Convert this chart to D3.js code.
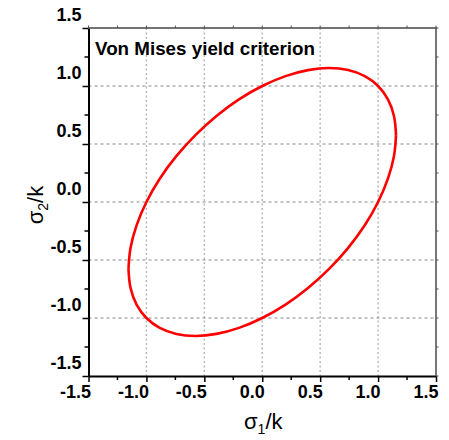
<!DOCTYPE html>
<html>
<head>
<meta charset="utf-8">
<script src="https://cdn.jsdelivr.net/npm/d3@7"></script>
<style>
  html, body { margin: 0; padding: 0; background: #fff; }
  svg { display: block; }
  text { font-family: "Liberation Sans", Arial, sans-serif; }
</style>
</head>
<body>
<svg id="chart" width="449" height="440"></svg>
<script>
// Von Mises yield locus in the σ1–σ2 plane (normalised by k)
const titleText = "Von Mises yield criterion";
const xTicks = [-1.5, -1.0, -0.5, 0.0, 0.5, 1.0, 1.5];
const yTicks = [-1.5, -1.0, -0.5, 0.0, 0.5, 1.0, 1.5];
const minorTicks = [-1.25, -0.75, -0.25, 0.25, 0.75, 1.25];
const gridValues = [-1.0, -0.5, 0.0, 0.5, 1.0];

// upper branch of the locus, from the right extreme round to the left extreme
const upperX = [1.155, 1.137, 1.085, 1.00, 0.885, 0.742, 0.577, 0.395, 0.201, 0.00, -0.201, -0.395, -0.577, -0.742, -0.885, -1.00, -1.085, -1.137, -1.155];
const upperY = [0.577, 0.742, 0.885, 1.00, 1.085, 1.137, 1.155, 1.137, 1.085, 1.00, 0.885, 0.742, 0.577, 0.395, 0.201, 0.00, -0.201, -0.395, -0.577];
// lower branch, from the left extreme back to the right extreme
const lowerX = [-1.155, -1.137, -1.085, -1.00, -0.885, -0.742, -0.577, -0.395, -0.201, 0.00, 0.201, 0.395, 0.577, 0.742, 0.885, 1.00, 1.085, 1.137, 1.155];
const lowerY = [-0.577, -0.742, -0.885, -1.00, -1.085, -1.137, -1.155, -1.137, -1.085, -1.00, -0.885, -0.742, -0.577, -0.395, -0.201, 0.00, 0.201, 0.395, 0.577];

const svg = d3.select("#chart");
const plot = { left: 88.5, right: 436, top: 28, bottom: 376 };

const x = d3.scaleLinear().domain([-1.5, 1.5]).range([plot.left, plot.right]);
const y = d3.scaleLinear().domain([-1.5, 1.5]).range([plot.bottom, plot.top]);

// grid
const grid = svg.append("g");
grid.selectAll("line.vg").data(gridValues).join("line")
  .attr("x1", d => x(d)).attr("x2", d => x(d))
  .attr("y1", plot.top).attr("y2", plot.bottom)
  .attr("stroke", "#b4b4b4").attr("stroke-width", 1.4)
  .attr("stroke-dasharray", "2,2.5");
grid.selectAll("line.hg").data(gridValues).join("line")
  .attr("x1", plot.left).attr("x2", plot.right)
  .attr("y1", d => y(d)).attr("y2", d => y(d))
  .attr("stroke", "#8a8a8a").attr("stroke-width", 1)
  .attr("stroke-dasharray", "3,3");

// yield locus, drawn as two branches
const line = d3.line()
  .x(d => x(d[0])).y(d => y(d[1]))
  .curve(d3.curveCatmullRom.alpha(0.5));
const upper = upperX.map((v, i) => [v, upperY[i]]);
const lower = lowerX.map((v, i) => [v, lowerY[i]]);
[upper, lower].forEach(pts => {
  svg.append("path")
    .attr("d", line(pts))
    .attr("fill", "none")
    .attr("stroke", "#ff0000")
    .attr("stroke-width", 2.6)
    .attr("stroke-linecap", "butt");
});

// axes
const axisFont = g => g.selectAll("text")
  .style("font-family", "'Liberation Sans', Arial, sans-serif")
  .style("font-weight", "bold")
  .style("font-size", "18px")
  .attr("fill", "#000");

const fmt = d3.format(".1f");

const xAxis = svg.append("g")
  .attr("transform", `translate(0,${plot.bottom})`)
  .call(d3.axisBottom(x).tickValues(xTicks).tickFormat(d => fmt(d).replace("−", "-")).tickSize(6).tickSizeOuter(0));
xAxis.select(".domain").attr("stroke", "#000").attr("stroke-width", 2);
xAxis.selectAll(".tick line").attr("stroke", "#000").attr("stroke-width", 1.5);
xAxis.selectAll(".tick text").attr("text-anchor", "end").attr("x", 2).attr("y", 9).attr("dy", "0.71em");
axisFont(xAxis);

const yAxis = svg.append("g")
  .attr("transform", `translate(${plot.left},0)`)
  .call(d3.axisLeft(y).tickValues(yTicks).tickFormat(d => fmt(d).replace("−", "-")).tickSize(6).tickSizeOuter(0));
yAxis.select(".domain").attr("stroke", "#000").attr("stroke-width", 2);
yAxis.selectAll(".tick line").attr("stroke", "#000").attr("stroke-width", 1.5);
yAxis.selectAll(".tick text").attr("x", -7).attr("dy", "-0.42em");
axisFont(yAxis);

// minor ticks on the bottom and left axes
svg.append("g").selectAll("line").data(minorTicks).join("line")
  .attr("x1", d => x(d)).attr("x2", d => x(d))
  .attr("y1", plot.bottom).attr("y2", plot.bottom + 4)
  .attr("stroke", "#000").attr("stroke-width", 1.5);
svg.append("g").selectAll("line").data(minorTicks).join("line")
  .attr("y1", d => y(d)).attr("y2", d => y(d))
  .attr("x1", plot.left).attr("x2", plot.left - 4)
  .attr("stroke", "#000").attr("stroke-width", 1.5);

// top and right frame with small outward ticks
svg.append("line")
  .attr("x1", plot.left).attr("x2", plot.right + 1)
  .attr("y1", plot.top).attr("y2", plot.top)
  .attr("stroke", "#444").attr("stroke-width", 1.6);
svg.append("line")
  .attr("x1", plot.right).attr("x2", plot.right)
  .attr("y1", plot.top).attr("y2", plot.bottom)
  .attr("stroke", "#555").attr("stroke-width", 1.6);
const frameTicks = xTicks.concat(minorTicks);
svg.append("g").selectAll("line").data(frameTicks).join("line")
  .attr("x1", d => x(d)).attr("x2", d => x(d))
  .attr("y1", plot.top).attr("y2", plot.top - 2.5)
  .attr("stroke", "#555").attr("stroke-width", 1);
svg.append("g").selectAll("line").data(frameTicks).join("line")
  .attr("y1", d => y(d)).attr("y2", d => y(d))
  .attr("x1", plot.right).attr("x2", plot.right + 2.5)
  .attr("stroke", "#555").attr("stroke-width", 1);

// title inside the plot
svg.append("text")
  .attr("x", 95).attr("y", 55)
  .style("font-weight", "bold").style("font-size", "18.8px")
  .attr("fill", "#000")
  .text(titleText);

// axis titles
const xTitle = svg.append("text")
  .attr("x", (plot.left + plot.right) / 2 + 1).attr("y", 429)
  .attr("text-anchor", "middle")
  .style("font-size", "22px").attr("fill", "#000");
xTitle.append("tspan").text("σ");
xTitle.append("tspan").attr("dy", 5).style("font-size", "14px").text("1");
xTitle.append("tspan").attr("dy", -5).text("/k");

const yTitle = svg.append("text")
  .attr("transform", `translate(43,${(plot.top + plot.bottom) / 2 + 3}) rotate(-90)`)
  .attr("text-anchor", "middle")
  .style("font-size", "22px").attr("fill", "#000");
yTitle.append("tspan").text("σ");
yTitle.append("tspan").attr("dy", 5).style("font-size", "14px").text("2");
yTitle.append("tspan").attr("dy", -5).text("/k");
</script>
</body>
</html>
